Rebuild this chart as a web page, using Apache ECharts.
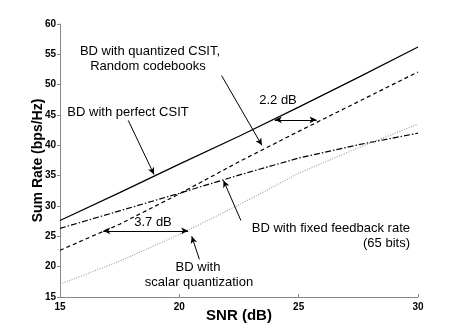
<!DOCTYPE html>
<html>
<head>
<meta charset="utf-8">
<script src="https://cdn.jsdelivr.net/npm/echarts@6/dist/echarts.min.js"></script>
<style>
  html, body { margin: 0; padding: 0; background: #fff; }
  #chart { width: 463px; height: 336px; }
</style>
</head>
<body>
<div id="chart"></div>
<script>
// SNR points (dB) and sum rate values
const snr = [15, 17.5, 20, 22.5, 25, 27.5, 30]
const perfectCsit = [27.6, 32.2, 36.9, 41.5, 46.3, 51.2, 56.2]
const quantizedCsit = [22.7, 27.0, 32.0, 37.3, 42.3, 47.2, 52.1]
const fixedFeedback = [26.3, 29.2, 32.1, 35.1, 37.9, 40.1, 42.0]
const scalarQuant = [17.1, 20.9, 25.3, 30.2, 35.4, 39.6, 43.5]

const xTicks = [15, 20, 25, 30]
const yTicks = [15, 20, 25, 30, 35, 40, 45, 50, 55, 60]

// annotation arrows, in data coords: [x1, y1, x2, y2, double-headed]
const arrows = [
  [21.77, 51.5, 23.46, 40.0, false],
  [17.86, 44.1, 18.94, 35.2, false],
  [22.58, 27.6, 21.85, 34.2, false],
  [20.84, 21.2, 20.52, 25.0, false],
  [24.0, 44.2, 25.75, 44.2, true],
  [16.81, 25.9, 20.37, 25.9, true]
]

const pair = (xs, ys) => xs.map((x, i) => [x, ys[i]])

const chart = echarts.init(document.getElementById('chart'))

const font = 'Liberation Sans, Arial, Helvetica, sans-serif'

const txt = (text, x, y, align) => ({
  type: 'text',
  x: x,
  y: y,
  style: {
    text: text,
    font: '13px ' + font,
    fill: '#000',
    align: align || 'center',
    verticalAlign: 'middle'
  },
  silent: true
})

const option = {
  animation: false,
  backgroundColor: '#fff',
  grid: { left: 60, right: 45, top: 24, bottom: 39 },
  xAxis: {
    type: 'value',
    min: 15,
    max: 30,
    interval: 5,
    name: 'SNR (dB)',
    nameLocation: 'middle',
    nameGap: 11,
    nameMoveOverlap: false,
    nameTextStyle: { fontFamily: font, fontSize: 15, fontWeight: 'bold', color: '#000' },
    axisLine: { lineStyle: { color: '#888', width: 1 } },
    axisTick: { inside: true, length: 3, lineStyle: { color: '#888' } },
    axisLabel: {
      fontFamily: font, fontSize: 10, fontWeight: 'bold', color: '#000', margin: 5,
      formatter: v => (xTicks.includes(v) ? String(v) : '')
    },
    splitLine: { show: false }
  },
  yAxis: {
    type: 'value',
    min: 15,
    max: 60,
    interval: 5,
    name: 'Sum Rate (bps/Hz)',
    nameLocation: 'middle',
    nameGap: 15,
    nameMoveOverlap: false,
    nameTextStyle: { fontFamily: font, fontSize: 14, fontWeight: 'bold', color: '#000' },
    axisLine: { show: true, lineStyle: { color: '#888', width: 1 } },
    axisTick: { show: true, inside: false, length: 3, lineStyle: { color: '#888' } },
    axisLabel: {
      fontFamily: font, fontSize: 10, fontWeight: 'bold', color: '#000', margin: 4,
      formatter: v => (yTicks.includes(v) ? String(v) : '')
    },
    splitLine: { show: false }
  },
  series: [
    {
      name: 'BD with perfect CSIT',
      type: 'line',
      data: pair(snr, perfectCsit),
      showSymbol: false,
      lineStyle: { color: '#000', width: 1.2, type: 'solid' },
      markLine: {
        silent: true,
        symbolSize: [5, 7],
        label: { show: false },
        lineStyle: { color: '#000', width: 1, type: 'solid' },
        data: arrows.map(a => [
          { coord: [a[0], a[1]], symbol: a[4] ? 'arrow' : 'none' },
          { coord: [a[2], a[3]], symbol: 'arrow' }
        ])
      }
    },
    {
      name: 'BD with quantized CSIT',
      type: 'line',
      data: pair(snr, quantizedCsit),
      showSymbol: false,
      lineStyle: { color: '#000', width: 1.2, type: [4, 3] }
    },
    {
      name: 'BD with fixed feedback rate',
      type: 'line',
      data: pair(snr, fixedFeedback),
      showSymbol: false,
      lineStyle: { color: '#000', width: 1.2, type: [6, 2, 1.5, 2] }
    },
    {
      name: 'BD with scalar quantization',
      type: 'line',
      data: pair(snr, scalarQuant),
      showSymbol: false,
      lineStyle: { color: '#999', width: 1.1, type: [1, 1.5] }
    }
  ],
  graphic: [
    txt('BD with quantized CSIT,', 150, 51),
    txt('Random codebooks', 148, 66),
    txt('BD with perfect CSIT', 128, 112),
    txt('2.2 dB', 278, 100),
    txt('3.7 dB', 153, 222),
    txt('BD with fixed feedback rate', 410, 228, 'right'),
    txt('(65 bits)', 410, 243, 'right'),
    txt('BD with', 198, 267),
    txt('scalar quantization', 199, 282)
  ]
}

chart.setOption(option)
</script>
</body>
</html>
